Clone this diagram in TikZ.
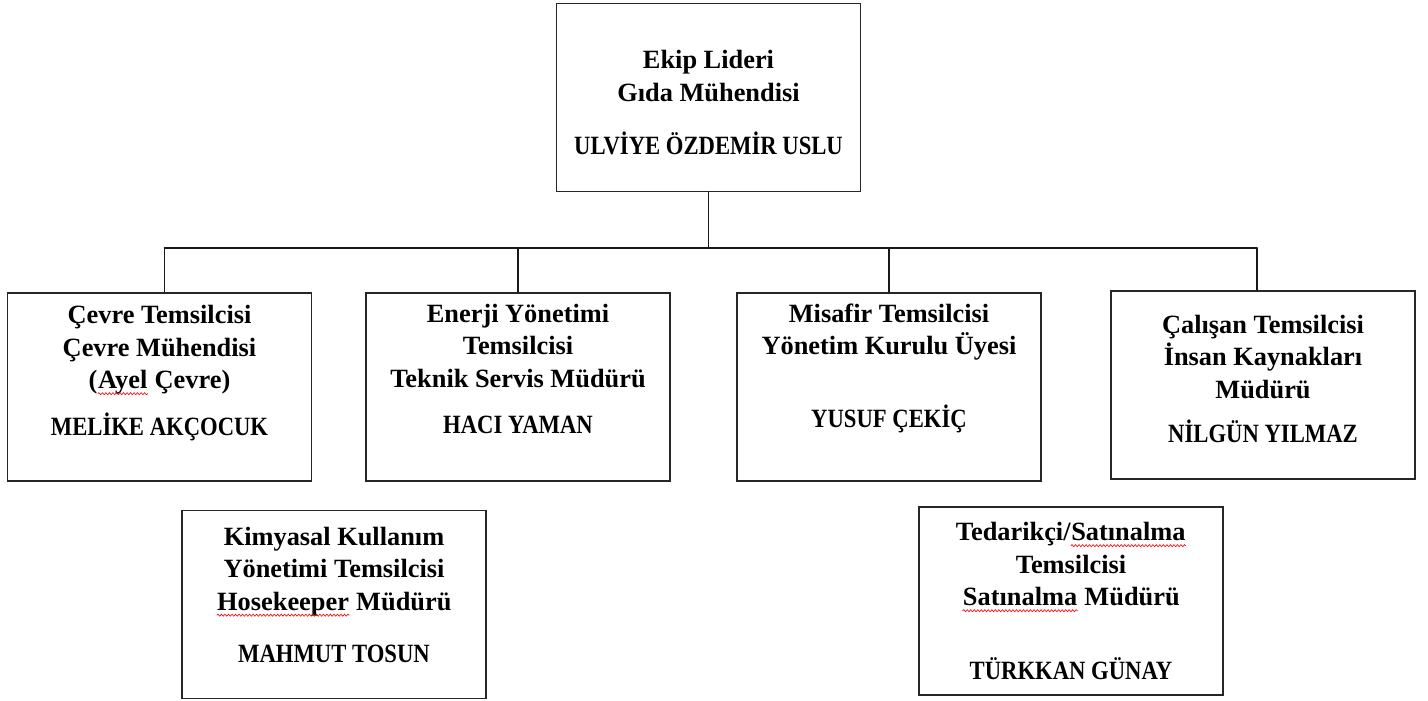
\documentclass[tikz,border=0pt]{standalone}
\usepackage{fontspec}
\setmainfont{Liberation Serif}
\usetikzlibrary{positioning,decorations.pathmorphing}
\newcommand\yanlis[1]{\tikz[baseline=(w.base)]{\node[inner sep=0pt, anchor=base] (w) {#1};
 \draw[red, line width=0.35pt, decorate, decoration={snake, amplitude=0.6pt, segment length=2pt}]
 ([yshift=-2.8pt]w.base west) -- ([yshift=-2.8pt]w.base east);}}
\newcommand\isim[1]{\scalebox{0.86}[1]{#1}}
\begin{document}
\begin{tikzpicture}[line width=0.8pt, line cap=round, draw=black!90,
 kutu/.style={draw=black!85, line width=1pt, minimum width=6.08cm, minimum height=3.76cm, inner sep=0pt},
 yazi/.style={align=center, inner sep=0pt, font=\fontsize{15}{18.5}\selectfont\bfseries}]
 \useasboundingbox (0,0) rectangle (28.56,14);
 % kutular
 \node[kutu] (lider) at (14.17,12.05) {};
 \node[kutu] (cevre) at (3.19,6.26) {};
 \node[kutu] (enerji) at (10.36,6.26) {};
 \node[kutu] (misafir) at (17.78,6.26) {};
 \node[kutu] (calisan) at (25.26,6.30) {};
 \node[kutu] (kimyasal) at (6.68,1.91) {};
 \node[kutu] (tedarik) at (21.42,1.98) {};
 % yazilar
 \node[yazi, below=0.94cm of lider.north] (liderT) {Ekip Lideri\\Gıda Mühendisi\\[12pt]\isim{ULVİYE ÖZDEMİR USLU}};
 \node[yazi, below=0.26cm of cevre.north] (cevreT) {Çevre Temsilcisi\\Çevre Mühendisi\\(\yanlis{Ayel} Çevre)\\[8pt]\isim{MELİKE AKÇOCUK}};
 \node[yazi, below=0.22cm of enerji.north] (enerjiT) {Enerji Yönetimi\\Temsilcisi\\Teknik Servis Müdürü\\[8pt]\isim{HACI YAMAN}};
 \node[yazi, below=0.22cm of misafir.north] (misafirT) {Misafir Temsilcisi\\Yönetim Kurulu Üyesi\\[23pt]\isim{YUSUF ÇEKİÇ}};
 \node[yazi, below=0.48cm of calisan.north] (calisanT) {Çalışan Temsilcisi\\İnsan Kaynakları\\Müdürü\\[7pt]\isim{NİLGÜN YILMAZ}};
 \node[yazi, below=0.34cm of kimyasal.north] (kimyasalT) {Kimyasal Kullanım\\Yönetimi Temsilcisi\\\yanlis{Hosekeeper} Müdürü\\[11pt]\isim{MAHMUT TOSUN}};
 \node[yazi, below=0.32cm of tedarik.north] (tedarikT) {Tedarikçi/\yanlis{Satınalma}\\Temsilcisi\\\yanlis{Satınalma} Müdürü\\[23.5pt]\isim{TÜRKKAN GÜNAY}};
 % baglantilar
 \coordinate (bus) at (0,9.04);
 \draw (lider.south) -- (lider.south |- bus);
 \draw ([xshift=0.1cm]cevre.north |- bus) -- ([xshift=-0.12cm]calisan.north |- bus);
 \foreach \k/\d in {cevre/0.1, enerji/0, misafir/0, calisan/-0.12}
 \draw ([xshift=\d cm]\k.north) -- ([xshift=\d cm]\k.north |- bus);
\end{tikzpicture}
\end{document}
